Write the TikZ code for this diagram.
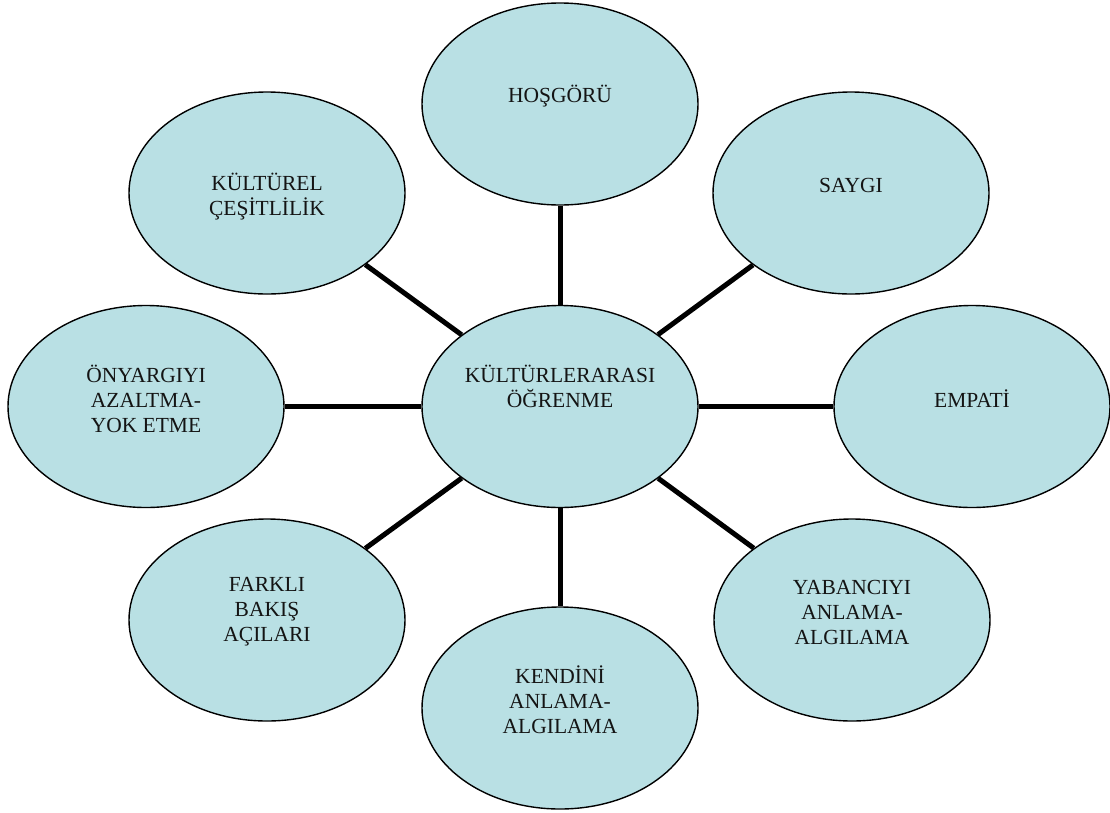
\documentclass[tikz,border=0pt]{standalone}
\usepackage{fontspec}
\setmainfont{Liberation Serif}
\usetikzlibrary{shapes.geometric}
\definecolor{bubblefill}{RGB}{185,224,228}
\definecolor{inkblack}{RGB}{20,20,20}
\tikzset{
  bubble/.style={ellipse, draw=black, line width=1.4pt, fill=bubblefill,
    minimum width=276pt, minimum height=202pt, inner sep=0pt},
  txt/.style={font=\fontsize{21.5}{25}\selectfont, text=inkblack, align=center, inner sep=0pt},
  spoke/.style={line width=5pt, black}
}
\begin{document}
\begin{tikzpicture}[x=1pt, y=-1pt]
  \useasboundingbox (0,0) rectangle (1110,812);

  % hub and the eight surrounding themes
  \node[bubble, label={[txt,yshift=20.5pt]center:KÜLTÜRLERARASI\\ÖĞRENME}] (hub) at (560,406.5) {};
  \node[bubble, label={[txt,yshift=8pt]center:HOŞGÖRÜ}] (hosgoru) at (560,104) {};
  \node[bubble, label={[txt,yshift=8pt]center:SAYGI}] (saygi) at (851,193) {};
  \node[bubble, label={[txt,yshift=8pt]center:EMPATİ}] (empati) at (972,406.5) {};
  \node[bubble, label={[txt,yshift=8pt]center:YABANCIYI\\ANLAMA-\\ALGILAMA}] (yabanci) at (852,620) {};
  \node[bubble, label={[txt,yshift=8pt]center:KENDİNİ\\ANLAMA-\\ALGILAMA}] (kendini) at (560,708) {};
  \node[bubble, label={[txt,yshift=8pt]center:FARKLI\\BAKIŞ\\AÇILARI}] (farkli) at (267,620) {};
  \node[bubble, label={[txt,yshift=8pt]center:ÖNYARGIYI\\AZALTMA-\\YOK ETME}] (onyargi) at (146,406.5) {};
  \node[bubble, label={[txt,yshift=-3.5pt]center:KÜLTÜREL\\ÇEŞİTLİLİK}] (kulturel) at (267,193) {};

  % spokes from the hub
  \foreach \n in {hosgoru,saygi,empati,yabanci,kendini,farkli,onyargi,kulturel}
    \draw[spoke] (hub) -- (\n);
\end{tikzpicture}
\end{document}
